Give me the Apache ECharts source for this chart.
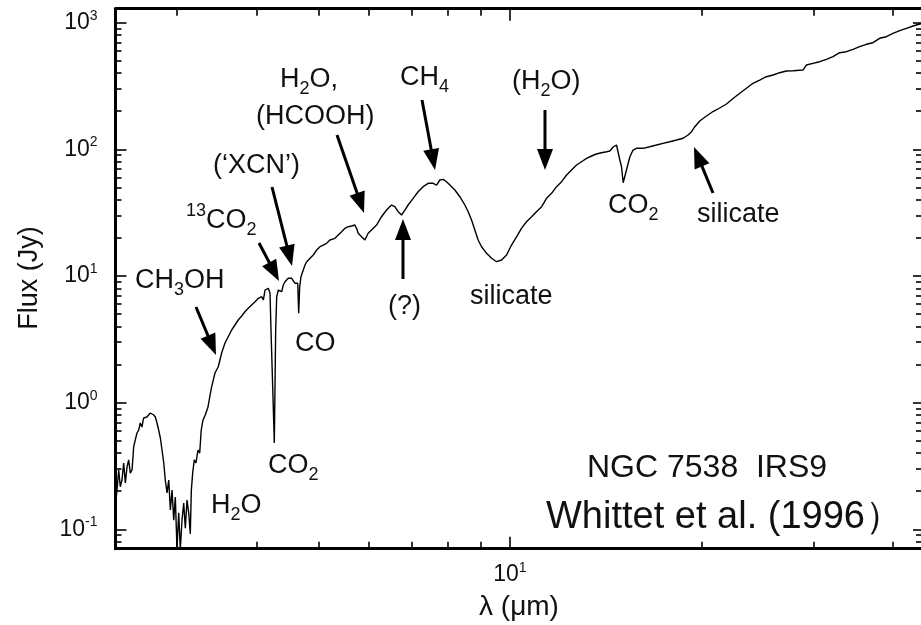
<!DOCTYPE html>
<html><head><meta charset="utf-8">
<script src="https://cdn.jsdelivr.net/npm/echarts@6/dist/echarts.min.js"></script>
<style>html,body{margin:0;padding:0;background:#fff;overflow:hidden}#c{width:921px;height:625px}</style>
</head><body><div id="c"></div>
<script>
// Wavelength (micron) and flux (Jy) (NGC 7538 IRS9)
const wavelength = [
  2.404, 2.413, 2.428, 2.442, 2.457, 2.472, 2.487, 2.502, 2.517, 2.532, 2.548, 2.563, 2.578, 2.594, 2.610, 2.625, 2.641, 2.657, 2.673, 2.689,
  2.706, 2.722, 2.739, 2.756, 2.772, 2.789, 2.806, 2.823, 2.840, 2.858, 2.874, 2.892, 2.910, 2.927, 2.945, 2.963, 2.980, 2.998, 3.017, 3.034,
  3.053, 3.072, 3.090, 3.109, 3.128, 3.146, 3.158, 3.173, 3.192, 3.211, 3.235, 3.255, 3.273, 3.294, 3.321, 3.354, 3.375,
  3.399, 3.440, 3.481, 3.524, 3.567, 3.609, 3.654, 3.698, 3.742, 3.789, 3.834, 3.880, 3.928, 3.977, 4.024, 4.074, 4.098, 4.123, 4.148, 4.172,
  4.198, 4.213, 4.239, 4.264, 4.285, 4.301, 4.326, 4.352, 4.379, 4.405, 4.432, 4.459, 4.485, 4.513, 4.541, 4.567, 4.596, 4.624, 4.641, 4.657,
  4.674, 4.696, 4.735, 4.765, 4.795, 4.852, 4.910, 4.970, 5.030, 5.090, 5.153,
  5.214, 5.310, 5.374, 5.440, 5.506, 5.571, 5.640, 5.707, 5.742, 5.776, 5.847, 5.917, 5.988, 6.062, 6.173, 6.285, 6.400, 6.517, 6.595, 6.675,
  6.757, 6.839, 6.921, 7.047, 7.175, 7.307, 7.440, 7.576, 7.670, 7.762, 7.855, 7.952, 8.048, 8.195, 8.345, 8.497, 8.600, 8.706, 8.810, 8.916,
  9.027, 9.192, 9.360, 9.530, 9.704, 9.882, 10.06,
  10.25, 10.43, 10.62, 10.82, 11.01, 11.22, 11.42, 11.63, 11.84, 12.06, 12.28, 12.50, 12.73, 12.96, 13.20, 13.44, 13.68, 13.93, 14.19, 14.36,
  14.53, 14.71, 14.80, 14.89, 14.98, 15.07, 15.25, 15.44, 15.62, 15.81, 16.20, 16.59, 17.00, 17.41, 17.84, 18.28, 18.72, 19.06, 19.30, 19.53,
  19.88, 20.37, 20.86, 21.37, 21.90, 22.43,
  22.98, 23.54, 24.11, 24.70, 25.30, 25.92, 26.55, 27.20, 27.86, 28.89, 29.24, 29.41, 29.95, 30.69, 31.44, 32.20, 32.99, 33.80, 34.62, 35.46,
  36.33, 37.21, 38.12, 39.06, 40.00, 41.00, 42.01, 43.02, 44.08, 45.0
];
const flux = [
  0.170, 0.204, 0.294, 0.217, 0.245, 0.334, 0.232, 0.310, 0.353, 0.278, 0.294, 0.447, 0.507, 0.576, 0.608, 0.691, 0.642, 0.757, 0.730, 0.770,
  0.799, 0.829, 0.844, 0.799, 0.770, 0.691, 0.608, 0.526, 0.423, 0.334, 0.245, 0.194, 0.245, 0.142, 0.204, 0.118, 0.180, 0.071, 0.135, 0.069,
  0.118, 0.161, 0.102, 0.170, 0.135, 0.092, 0.204, 0.278, 0.353, 0.334, 0.423, 0.400, 0.608, 0.730, 0.799, 0.924, 1.108,
  1.337, 1.714, 1.922, 2.466, 2.958, 3.317, 3.747, 4.104, 4.494, 4.833, 5.225, 5.559, 5.902, 6.266, 6.667, 6.865, 6.462, 7.754, 7.516, 7.997,
  7.342, 3.747, 1.337, 0.480, 3.747, 6.865, 7.754, 7.997, 7.516, 8.490, 9.016, 9.299, 9.590, 9.299, 9.590, 9.299, 8.756, 8.490, 8.756, 5.077,
  8.232, 9.874, 11.15, 12.21, 12.97, 13.80, 14.65, 16.05, 17.03, 17.57, 18.12,
  19.24, 19.85, 21.07, 22.38, 23.80, 24.51, 24.82, 25.27, 23.80, 21.74, 20.43, 19.24, 21.74, 23.08, 25.27, 29.39, 33.19, 36.36, 35.25, 32.19,
  30.32, 33.19, 36.36, 41.07, 46.30, 50.72, 53.94, 53.94, 52.30, 57.28, 58.01, 55.54, 52.30, 47.75, 42.28, 36.36, 32.19, 27.68, 23.08, 19.24,
  17.03, 15.11, 13.80, 12.97, 13.37, 14.65, 17.57,
  20.43, 23.80, 26.83, 29.39, 32.19, 35.25, 41.07, 44.98, 50.72, 55.54, 62.72, 68.71, 75.22, 79.87, 84.98, 88.61, 91.90, 94.08, 95.81, 97.05,
  104.4, 108.2, 104.9, 82.38, 72.95, 54.54, 68.71, 87.50, 98.83, 101.9, 101.9, 104.9, 108.2, 111.6, 114.9, 118.5, 122.3, 129.8, 137.9, 151.0,
  167.5, 183.4, 199.0, 212.1, 228.1, 252.0,
  277.1, 303.4, 332.3, 352.8, 374.6, 386.5, 402.9, 415.5, 417.8, 423.1, 463.4, 449.3, 477.9, 492.1, 514.0, 538.9, 579.7, 590.2, 616.6, 646.4,
  675.3, 695.2, 753.1, 775.4, 824.8, 864.8, 903.1, 941.7, 976.6, 994.5
];
const xLabelTicks = [10];
const xMinorTicks = [3, 4, 5, 6, 7, 8, 9, 20, 30, 40];
const yLabelTicks = [0.1, 1, 10, 100, 1000];
const yMinorTicks = [0.08, 0.09, 0.2, 0.3, 0.4, 0.5, 0.6, 0.7, 0.8, 0.9, 2, 3, 4, 5, 6, 7, 8, 9,
  20, 30, 40, 50, 60, 70, 80, 90, 200, 300, 400, 500, 600, 700, 800, 900];
const xRange = [2.4, 44.6];
const yRange = [0.0703, 1290];

const FONT = '"Liberation Sans", Arial, Helvetica, sans-serif';
const INK = '#111';
const chart = echarts.init(document.getElementById('c'), null, {renderer: 'canvas'});

const powFmt = v => '{b|10}{s|' + Math.round(Math.log10(v)) + '}';
const tickRich = {
  b: {fontSize: 23, fontFamily: FONT, color: INK, lineHeight: 28},
  s: {fontSize: 14, fontFamily: FONT, color: INK, lineHeight: 14, verticalAlign: 'top'}
};
function logAxis(kind, pos, ticks, len, withLine, labels) {
  return {
    type: 'log', position: pos, gridIndex: 0,
    min: kind === 'x' ? xRange[0] : yRange[0],
    max: kind === 'x' ? xRange[1] : yRange[1],
    axisLine: {show: withLine, onZero: false, lineStyle: {color: '#000', width: 3}},
    axisTick: {show: true, inside: true, length: len, customValues: ticks, lineStyle: {color: '#000', width: 1.6}},
    axisLabel: labels ? {show: true, customValues: labels, formatter: powFmt, rich: tickRich, margin: kind === 'x' ? 12 : 18}
                      : {show: false},
    splitLine: {show: false}, minorTick: {show: false}, minorSplitLine: {show: false}
  };
}

const annRich = {
  b: {fontSize: 27, fontFamily: FONT, fill: INK, lineHeight: 37},
  sub: {fontSize: 18, fontFamily: FONT, fill: INK, lineHeight: 18, verticalAlign: 'bottom'},
  sup: {fontSize: 18, fontFamily: FONT, fill: INK, lineHeight: 18, verticalAlign: 'top'}
};
function label(text, x, y, size) {
  const rich = JSON.parse(JSON.stringify(annRich));
  if (size) { rich.b.fontSize = size; rich.b.lineHeight = size + 10; }
  return {type: 'text', x: x, y: y, z: 50,
    style: {text: text, rich: rich, fill: INK, align: 'left', verticalAlign: 'middle'}};
}
function arrow(x1, y1, x2, y2) {
  const dx = x2 - x1, dy = y2 - y1, L = Math.hypot(dx, dy), ux = dx / L, uy = dy / L;
  const hl = 21, hw = 8;
  const bx = x2 - ux * hl, by = y2 - uy * hl;
  return [
    {type: 'line', z: 50, shape: {x1: x1, y1: y1, x2: bx + ux * 3, y2: by + uy * 3}, style: {stroke: '#000', lineWidth: 3}},
    {type: 'polygon', z: 50, shape: {points: [[x2, y2], [bx - uy * hw, by + ux * hw], [bx + uy * hw, by - ux * hw]]}, style: {fill: '#000'}}
  ];
}

const graphics = [].concat(
  label('{b|CH}{sub|3}{b|OH}', 135, 281),
  label('{sup|13}{b|CO}{sub|2}', 186, 221),
  label('{b|(‘XCN’)}', 213, 166),
  label('{b|H}{sub|2}{b|O,}', 280, 80),
  label('{b|(HCOOH)}', 256, 117),
  label('{b|CH}{sub|4}', 400, 78),
  label('{b|(H}{sub|2}{b|O)}', 512, 82),
  label('{b|CO}', 295, 344),
  label('{b|CO}{sub|2}', 268, 466),
  label('{b|H}{sub|2}{b|O}', 211, 506),
  label('{b|(?)}', 388, 307),
  label('{b|silicate}', 470, 297),
  label('{b|CO}{sub|2}', 608, 206),
  label('{b|silicate}', 697, 215),
  label('{b|NGC 7538  IRS9}', 587, 468, 32),
  label('{b|Whittet et al. (1996）}', 546, 518, 38),
  arrow(196, 307, 216, 355),
  arrow(259, 243, 279, 281),
  arrow(272, 187, 292, 266),
  arrow(337, 135, 364, 213),
  arrow(422, 100, 435, 170),
  arrow(403, 279, 403, 219),
  arrow(545, 110, 545, 170),
  arrow(713, 193, 694, 147),
  [{type: 'text', x: 519, y: 607, z: 50, style: {text: 'λ (μm)', font: '28px ' + FONT, fill: INK, align: 'center', verticalAlign: 'middle'}},
   {type: 'text', x: 30, y: 278, z: 50, rotation: Math.PI / 2, style: {text: 'Flux (Jy)', font: '27px ' + FONT, fill: INK, align: 'center', verticalAlign: 'middle'}}]
);

chart.setOption({
  animation: false,
  backgroundColor: '#fff',
  grid: {left: 115.5, top: 8.7, right: -2, bottom: 76.3, containLabel: false, outerBoundsMode: 'none'},
  xAxis: [
    logAxis('x', 'bottom', xLabelTicks, 12, true, xLabelTicks),
    logAxis('x', 'bottom', xMinorTicks, 7, false, null),
    logAxis('x', 'top', xLabelTicks, 12, true, null),
    logAxis('x', 'top', xMinorTicks, 7, false, null)
  ],
  yAxis: [
    logAxis('y', 'left', yLabelTicks, 11, true, yLabelTicks),
    logAxis('y', 'left', yMinorTicks, 6, false, null),
    logAxis('y', 'right', yLabelTicks, 10, true, null),
    logAxis('y', 'right', yMinorTicks, 7, false, null)
  ],
  series: [{
    type: 'line', xAxisIndex: 0, yAxisIndex: 0,
    data: wavelength.map((w, i) => [w, flux[i]]),
    showSymbol: false, symbol: 'none', clip: true,
    lineStyle: {color: '#000', width: 1.4}
  }],
  graphic: graphics
});
</script></body></html>
